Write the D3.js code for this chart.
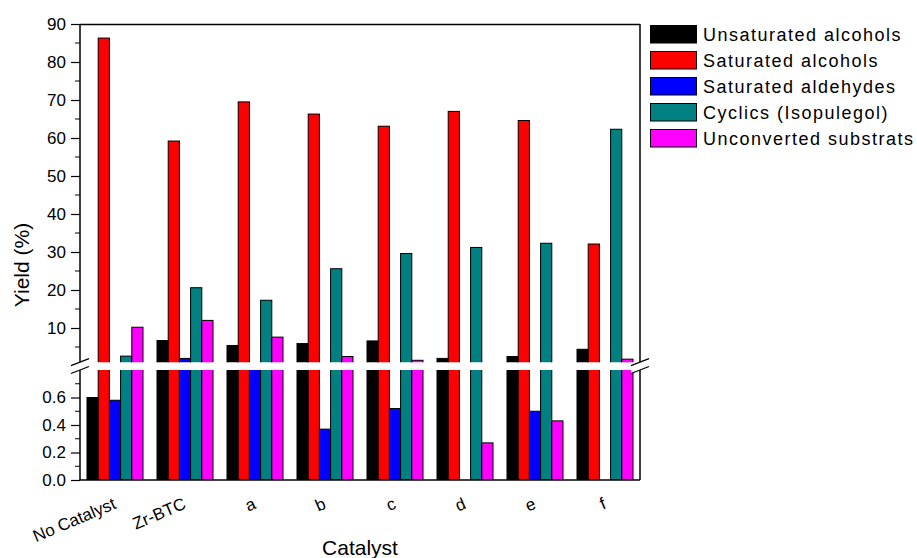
<!DOCTYPE html>
<html>
<head>
<meta charset="utf-8">
<script src="https://cdn.jsdelivr.net/npm/d3@7/dist/d3.min.js"></script>
<style>
  html, body { margin: 0; padding: 0; background: #fff; }
  svg { display: block; font-family: "Liberation Sans", Arial, sans-serif; }
</style>
</head>
<body>
<svg id="chart" width="917" height="558"></svg>
<script>
// Catalysts along the x axis
const categories = ["No Catalyst", "Zr-BTC", "a", "b", "c", "d", "e", "f"];

// Product series (yield %, one value per catalyst)
const seriesNames = ["Unsaturated alcohols", "Saturated alcohols", "Saturated aldehydes", "Cyclics (Isopulegol)", "Unconverted substrats"];
const unsaturatedAlcohols = [0.60, 6.7, 5.4, 5.9, 6.6, 2.0, 2.5, 4.4];
const saturatedAlcohols   = [86.3, 59.2, 69.5, 66.3, 63.1, 67.0, 64.6, 32.1];
const saturatedAldehydes  = [0.58, 2.0, 0.95, 0.37, 0.52, 0, 0.50, 0];
const cyclics             = [2.6, 20.6, 17.3, 25.6, 29.6, 31.2, 32.3, 62.3];
const unconverted         = [10.2, 12.0, 7.6, 2.5, 1.5, 0.27, 0.43, 1.8];
const seriesColors = ["#000000", "#ff0000", "#0000ff", "#008080", "#ff00ff"];

// Broken y axis: lower and upper segments
const lowerDomain = [0, 0.8];
const upperDomain = [1, 90];
const lowerTicks = [0, 0.2, 0.4, 0.6];
const lowerMinor = [0.1, 0.3, 0.5, 0.7];
const upperTicks = [10, 20, 30, 40, 50, 60, 70, 80, 90];
const upperMinor = [5, 15, 25, 35, 45, 55, 65, 75, 85];

const series = [unsaturatedAlcohols, saturatedAlcohols, saturatedAldehydes, cyclics, unconverted];

const svg = d3.select("#chart");
const plotL = 80, plotR = 640, plotT = 24, plotB = 480;
const upperBottom = 362.2, lowerTop = 370;

const x = d3.scaleBand().domain(categories).range([plotL, plotR]).paddingInner(0.2).paddingOuter(0.1);
const xs = d3.scaleBand().domain(d3.range(seriesNames.length)).range([0, x.bandwidth()]);
const yLow = d3.scaleLinear().domain(lowerDomain).range([plotB, lowerTop]);
const yUp = d3.scaleLinear().domain(upperDomain).range([upperBottom, plotT]);

// clip paths for the two panels
const defs = svg.append("defs");
defs.append("clipPath").attr("id", "clipUp").append("rect")
  .attr("x", plotL).attr("y", plotT).attr("width", plotR - plotL).attr("height", upperBottom - plotT);
defs.append("clipPath").attr("id", "clipLow").append("rect")
  .attr("x", plotL).attr("y", lowerTop).attr("width", plotR - plotL).attr("height", plotB - lowerTop);

const rows = [];
categories.forEach((c, i) => {
  series.forEach((s, j) => rows.push({ cat: c, k: j, v: s[i] }));
});

// lower panel bars
svg.append("g").attr("clip-path", "url(#clipLow)")
  .selectAll("rect").data(rows.filter(d => d.v > 0)).join("rect")
  .attr("x", d => x(d.cat) + xs(d.k))
  .attr("width", xs.bandwidth())
  .attr("y", d => yLow(Math.min(d.v, lowerDomain[1])) - (d.v > lowerDomain[1] ? 2 : 0))
  .attr("height", d => plotB - yLow(Math.min(d.v, lowerDomain[1])) + (d.v > lowerDomain[1] ? 2 : 0))
  .attr("fill", d => seriesColors[d.k])
  .attr("stroke", "#000").attr("stroke-width", 1);

// upper panel bars
svg.append("g").attr("clip-path", "url(#clipUp)")
  .selectAll("rect").data(rows.filter(d => d.v > upperDomain[0])).join("rect")
  .attr("x", d => x(d.cat) + xs(d.k))
  .attr("width", xs.bandwidth())
  .attr("y", d => yUp(d.v))
  .attr("height", d => upperBottom + 2 - yUp(d.v))
  .attr("fill", d => seriesColors[d.k])
  .attr("stroke", "#000").attr("stroke-width", 1);

// frame
const axisColor = "#000";
svg.append("line").attr("x1", plotL).attr("x2", plotR).attr("y1", plotT + 0.5).attr("y2", plotT + 0.5)
  .attr("stroke", axisColor).attr("stroke-width", 1.5);
svg.append("line").attr("x1", plotR).attr("x2", plotR).attr("y1", plotT).attr("y2", plotB)
  .attr("stroke", axisColor).attr("stroke-width", 1.5);
svg.append("line").attr("x1", plotL).attr("x2", plotR).attr("y1", plotB).attr("y2", plotB)
  .attr("stroke", axisColor).attr("stroke-width", 1.5);

// left axis, upper segment
const axUp = svg.append("g").attr("transform", `translate(${plotL},0)`)
  .call(d3.axisLeft(yUp).tickValues(upperTicks).tickSize(9).tickPadding(5).tickFormat(d3.format("d")));
axUp.append("g").selectAll("line").data(upperMinor).join("line")
  .attr("x1", -5).attr("x2", 0).attr("y1", d => yUp(d)).attr("y2", d => yUp(d)).attr("stroke", axisColor);
axUp.select(".domain").attr("d", `M0,${plotT}V${upperBottom}`);

// left axis, lower segment
const axLow = svg.append("g").attr("transform", `translate(${plotL},0)`)
  .call(d3.axisLeft(yLow).tickValues(lowerTicks).tickSize(9).tickPadding(5).tickFormat(d3.format(".1f")));
axLow.append("g").selectAll("line").data(lowerMinor).join("line")
  .attr("x1", -5).attr("x2", 0).attr("y1", d => yLow(d)).attr("y2", d => yLow(d)).attr("stroke", axisColor);
axLow.select(".domain").attr("d", `M0,${lowerTop}V${plotB}`);

[axUp, axLow].forEach(ax => {
  ax.selectAll(".domain").attr("stroke", axisColor).attr("stroke-width", 1.5);
  ax.selectAll(".tick line").attr("stroke", axisColor).attr("stroke-width", 1.2);
  ax.selectAll(".tick text").attr("font-size", 17).attr("fill", "#000")
    .attr("font-family", "Liberation Sans, Arial, sans-serif");
});

// break marks on both vertical axes
function breakMarks(cx) {
  const g = svg.append("g");
  g.append("path")
    .attr("d", `M${cx - 9},${upperBottom + 3.5}L${cx + 9},${upperBottom - 3.5}L${cx + 9},${lowerTop - 3.5}L${cx - 9},${lowerTop + 3.5}Z`)
    .attr("fill", "#fff");
  [upperBottom, lowerTop].forEach(yy => {
    g.append("line").attr("x1", cx - 9).attr("x2", cx + 9)
      .attr("y1", yy + 3.5).attr("y2", yy - 3.5)
      .attr("stroke", "#000").attr("stroke-width", 1.3);
  });
}
breakMarks(plotL);
breakMarks(plotR);

// category labels
svg.append("g").selectAll("text").data(categories).join("text")
  .attr("transform", d => `translate(${x(d) + x.bandwidth() / 2 + 2},508) rotate(-23)`)
  .attr("text-anchor", "end")
  .attr("font-size", 17)
  .text(d => d);

// axis titles
svg.append("text").attr("x", (plotL + plotR) / 2).attr("y", 555)
  .attr("text-anchor", "middle").attr("font-size", 21).text("Catalyst");
svg.append("text").attr("transform", "translate(28.5,265) rotate(-90)")
  .attr("text-anchor", "middle").attr("font-size", 21).text("Yield (%)");

// legend
const legend = svg.append("g").attr("transform", "translate(650,25)");
seriesNames.forEach((name, i) => {
  const g = legend.append("g").attr("transform", `translate(0,${i * 26})`);
  g.append("rect").attr("x", 0.5).attr("y", 0.5).attr("width", 46).attr("height", 17.5)
    .attr("fill", seriesColors[i]).attr("stroke", "#000").attr("stroke-width", 1);
  g.append("text").attr("x", 53).attr("y", 15.5).attr("font-size", 18)
    .attr("letter-spacing", 1.5).text(name);
});
</script>
</body>
</html>
